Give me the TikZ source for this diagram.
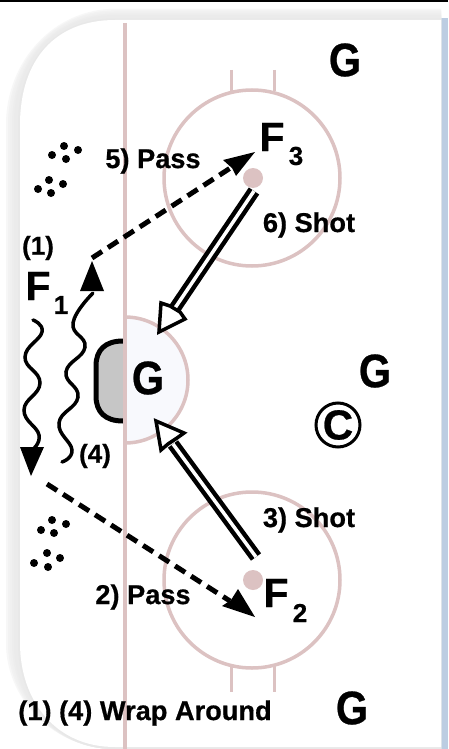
\documentclass[tikz,border=0pt]{standalone}
\usepackage{fontspec}
\setmainfont{Liberation Sans}[BoldFeatures={FakeBold=0.6}]
\usetikzlibrary{arrows.meta,calc}
\definecolor{rinkred}{HTML}{DCC2C2}
\definecolor{creasefill}{HTML}{F8F9FD}
\definecolor{netfill}{HTML}{C6C6C6}
\definecolor{sideblue}{HTML}{BCCDE2}
\newcommand{\fs}[1]{\fontsize{#1}{#1}\selectfont\bfseries}
\tikzset{
  x=1pt,y=-1pt,
  lab/.style={inner sep=0pt,font=\fs{27.2}},
  smalllab/.style={inner sep=0pt,font=\fs{26}},
  goalie/.style={inner sep=0pt,font=\fs{47}},
  pl/.style={inner sep=0pt,font=\fs{41}},
  sub/.style={inner sep=0pt,font=\fs{26}},
  redline/.style={draw=rinkred,line width=3.5pt},
  passline/.style={line width=5pt,dash pattern=on 12pt off 7pt},
  wave/.style={line width=3.5pt,line cap=round},
  puck/.style={circle,fill=black,minimum size=8pt,inner sep=0pt},
  shot/.style={line width=4.5pt,draw=black,double=white,double distance=3.5pt},
  hollow/.style={draw=black,fill=white,line width=3.5pt,line join=miter},
  dotred/.style={circle,fill=rinkred,minimum size=20pt,inner sep=0pt}
}
\begin{document}
\begin{tikzpicture}
\useasboundingbox (0,0) rectangle (448,749);
\fill[white] (0,0) rectangle (448,749);
% side and top surrounds
\fill[black] (0,0) rectangle (448,2.5);
\fill[sideblue] (441,18) rectangle (448,749);
% shadow of rink
\foreach \d/\g in {14/97,12/95,10/94,8/93,6/92,4/92,2/91}{
  \fill[black!\the\numexpr 100-\g\relax] (441,20-\d*0.8) -- (115,20-\d*0.8)
    .. controls (55,20-\d*0.8) and (20-\d,60) .. (20-\d,125) -- (20-\d,643)
    .. controls (20-\d,700) and (55,749) .. (115,749) -- (441,749) -- cycle;
}
% rink
\fill[white] (441,20) -- (115,20) .. controls (55,20) and (20,60) .. (20,125)
  -- (20,643) .. controls (20,700) and (55,747) .. (115,747) -- (441,747) -- cycle;
% crease
\fill[creasefill] (125,317) arc[start angle=-90,end angle=90,radius=63];
\draw[redline] (125,317) arc[start angle=-90,end angle=90,radius=63];
% net
\draw[line width=5pt,fill=netfill] (123,341) .. controls (105,341) and (96,350) .. (96,366)
  -- (96,396) .. controls (96,412) and (105,421) .. (123,421);
% centre line
\draw[redline] (125,23) -- (125,749);
% faceoff circles
\draw[redline] (252,178) circle[radius=88];
\draw[redline] (252,580) circle[radius=88];
\foreach \x in {231,274}{
  \draw[draw=rinkred,line width=3pt] (\x,70) -- (\x,91);
  \draw[draw=rinkred,line width=3pt] (\x,665) -- (\x,692);
}
\node[dotred] (dot3) at (253,178) {};
\node[dotred] (dot2) at (253,580) {};
% pucks
\foreach \n/\x/\y in {a/64/146,b/52/155,c/66/159,d/78/150,e/49/180,f/63/184,g/38/189,h/51/193,
  i/52/520,j/66/524,k/41/530,l/54/533,m/47/553,n/60/558,o/34/563,p/48/567}{
  \node[puck] (puck\n) at (\x,\y) {};
}
% connector end points
\coordinate (pass1a) at (92,258);
\coordinate (pass1b) at (255,152);
\coordinate (pass2a) at (47,484);
\coordinate (pass2b) at (255,617);
\coordinate (shot1a) at (254,191);
\coordinate (shot1b) at (175,308);
\coordinate (shot2a) at (256,557);
\coordinate (shot2b) at (173,444);
% passes
\draw[passline] (pass1a) -- ($(pass1a)!0.88!(pass1b)$);
\fill (pass1b) -- (236,176) -- (232,168) -- (223,160) -- cycle;
\draw[passline] (pass2a) -- ($(pass2a)!0.88!(pass2b)$);
\fill (pass2b) -- (222,606) -- (231,600) -- (238,589) -- cycle;
% shots
\draw[shot] (shot1a) -- (shot1b);
\draw[hollow] (159,332) -- (161,303) -- (170,306) -- (180,312) -- (185,319) -- cycle;
\draw[shot] (shot2a) -- (shot2b);
\draw[hollow] (156,421) -- (184,433) -- (177,438) -- (168,444) -- (161,450) -- cycle;
% wrap arounds
\draw[wave] plot[smooth,tension=0.8] coordinates {(33,320) (42,332) (25,357) (40,383) (24,410) (39,435) (32,450)};
\fill (20,447) -- (44,447) -- (31,476) -- cycle;
\draw[wave] plot[smooth,tension=0.8] coordinates {(62,462) (72,450) (59,423) (78,397) (66,372) (85,347) (73,323) (93,293)};
\fill (80,291) -- (104,291) -- (92,261) -- cycle;
% labels
\node[goalie] (g1) at (345,60) {\scalebox{.88}[1]{G}};
\node[goalie] (g2) at (375,371) {\scalebox{.88}[1]{G}};
\node[goalie] (g3) at (352,708) {\scalebox{.88}[1]{G}};
\node[goalie] (g4) at (148,378) {\scalebox{.88}[1]{G}};
\node[pl] (f3) at (272,137) {F};
\node[sub] (s3) at (296,156) {3};
\node[pl] (f2) at (276,593) {F};
\node[sub] (s2) at (300,613) {2};
\node[pl] (f1) at (38,286) {F};
\node[sub] (s1) at (61,305) {1};
\node[smalllab] (l1) at (38,248) {(1)};
\node[smalllab] (l4) at (95,456) {(4)};
\node[lab] (pass5) at (153,161) {5) Pass};
\node[lab] (shot6) at (309,225) {6) Shot};
\node[lab] (shot3) at (309,520) {3) Shot};
\node[lab] (pass2) at (143,597) {2) Pass};
\node[lab] (wrap) at (145,713) {(1) (4) Wrap Around};
% coach marker
\node[draw,circle,line width=3pt,minimum size=44pt,inner sep=0pt,font=\fs{42}] (coach) at (338,425) {C};
\end{tikzpicture}
\end{document}
